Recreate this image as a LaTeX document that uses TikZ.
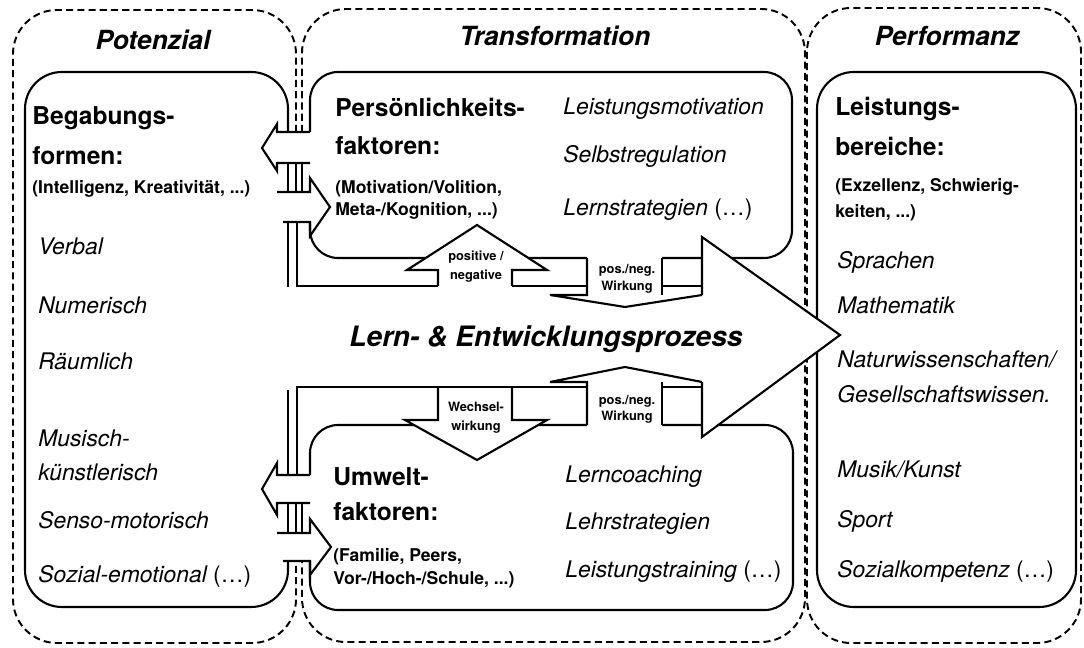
\documentclass[tikz,border=0pt]{standalone}
\usepackage{fontspec}
\setmainfont{TeX Gyre Heros}
\begin{document}
\begin{tikzpicture}[x=0.02cm,y=-0.02cm,
  outerdash/.style={dash pattern=on 4pt off 2.4pt, line width=1.1pt, rounded corners=25pt},
  bx/.style={line width=1.2pt},
  ln/.style={line width=1.2pt},
  ttl/.style={font=\fontsize{15}{18}\selectfont\bfseries\itshape, inner sep=0, anchor=base},
  hd/.style={font=\fontsize{14}{17}\selectfont\bfseries, inner sep=0, anchor=base west},
  sb/.style={font=\fontsize{10}{12}\selectfont\bfseries, inner sep=0, anchor=base west},
  itm/.style={font=\fontsize{13}{16}\selectfont\itshape, inner sep=0, anchor=base west},
  lab/.style={font=\fontsize{7.3}{9}\selectfont\bfseries, inner sep=0, anchor=base},
  bigt/.style={font=\fontsize{16}{19}\selectfont\bfseries\itshape, inner sep=0, anchor=base}
]
\useasboundingbox (0,0) rectangle (1084,648);

% outer dashed regions
\draw[outerdash] (296,132) -- (296,10) -- (13,10) -- (13,643) -- (296,643) -- (296,561);
\draw[outerdash] (302,132) -- (302,9) -- (805,9) -- (805,642) -- (302,642) -- (302,561);
\draw[outerdash] (807,8) rectangle (1081,643);

% inner boxes
\draw[bx, rounded corners=21pt] (288,132) -- (288,72) -- (25,72) -- (25,607) -- (288,607) -- (288,561);
\draw[bx, rounded corners=21pt] (817,72) rectangle (1076,607);
\draw[bx, rounded corners=16pt] (310,132) -- (310,72) -- (792,72) -- (792,258) -- (310,258) -- (310,222);
\draw[bx, rounded corners=16pt] (310,475) -- (310,425) -- (793,425) -- (793,610) -- (310,610) -- (310,561);

% white fills of arrows covering lines below
\fill[white] (438,287)--(438,270)--(407,270)--(477,225)--(547,270)--(512,270)--(512,287)--cycle;
\fill[white] (587,250)--(587,295)--(550,295)--(625,307)--(702,295)--(662,295)--(662,250)--cycle;
\fill[white] (438,388)--(438,420)--(405,420)--(477,460)--(547,420)--(512,420)--(512,388)--cycle;
\fill[white] (587,435)--(587,382)--(550,382)--(625,367)--(702,382)--(662,382)--(662,435)--cycle;
\fill[white] (702,237)--(840,335)--(702,437)--cycle;

% double walls and channels
\draw[ln] (288,163)--(288,192) (296,163)--(296,192) (302,163)--(302,192);
\draw[ln] (288,503)--(288,533) (296,503)--(296,533) (302,503)--(302,533);
\draw[ln] (288,222)--(288,287);
\draw[ln] (297,222)--(297,286)--(438,286);
\draw[ln] (512,286)--(587,286);
\draw[ln] (662,286)--(702,286);
\draw[ln] (288,390)--(288,475);
\draw[ln] (297,475)--(297,387)--(587,387);
\draw[ln] (662,387)--(702,387);

% small arrows between the boxes
\draw[ln] (310,132)--(277,132)--(277,124)--(262,148)--(277,171)--(277,163)--(310,163);
\draw[ln] (277,192)--(310,192)--(310,178)--(330,207)--(310,236)--(310,222)--(283,222);
\draw[ln] (310,475)--(277,475)--(277,463)--(262,489)--(277,515)--(277,503)--(310,503);
\draw[ln] (277,533)--(310,533)--(310,519)--(331,547)--(310,575)--(310,561)--(283,561);

% central arrows
\draw[ln] (438,286)--(438,270)--(407,270)--(477,225)--(547,270)--(512,270)--(512,286);
\draw[ln] (587,258)--(587,295)--(550,295)--(625,307)--(702,295);
\draw[ln] (662,258)--(662,295);
\draw[ln] (438,387)--(438,420)--(405,420)--(477,460)--(547,420)--(512,420)--(512,387);
\draw[ln] (587,425)--(587,382)--(550,382)--(625,367)--(702,382);
\draw[ln] (662,425)--(662,382);
\draw[ln] (702,295)--(702,237)--(840,335)--(702,437)--(702,382);

% titles
\node[ttl] (tpot) at (153,50) {Potenzial};
\node[ttl] (ttra) at (555,46) {Transformation};
\node[ttl] (tper) at (947,46) {Performanz};
\node[bigt] (lep) at (546,346) {Lern- \& Entwicklungsprozess};

% Potenzial box
\node[hd] (bega) at (32,125) {Begabungs-};
\node[hd] (begb) at (32,165) {formen:};
\node[sb] (begs) at (32,194) {(Intelligenz, Kreativität, ...)};
\node[itm] (p1) at (38,255) {Verbal};
\node[itm] (p2) at (38,314) {Numerisch};
\node[itm] (p3) at (38,369) {Räumlich};
\node[itm] (p4) at (38,446) {Musisch-};
\node[itm] (p5) at (38,480) {künstlerisch};
\node[itm] (p6) at (38,528) {Senso-motorisch};
\node[itm] (p7) at (38,582) {Sozial-emotional {\upshape(\dots)}};

% Persoenlichkeit box
\node[hd] (pera) at (335,117) {Persönlichkeits-};
\node[hd] (perb) at (335,155) {faktoren:};
\node[sb] (pers1) at (335,194) {(Motivation/Volition,};
\node[sb] (pers2) at (335,216) {Meta-/Kognition, ...)};
\node[itm] (q1) at (563,115) {Leistungsmotivation};
\node[itm] (q2) at (563,163) {Selbstregulation};
\node[itm] (q3) at (563,216) {Lernstrategien {\upshape(\dots)}};

% Umwelt box
\node[hd] (umwa) at (333,485) {Umwelt-};
\node[hd] (umwb) at (333,520) {faktoren:};
\node[sb] (umws1) at (333,561) {(Familie, Peers,};
\node[sb] (umws2) at (333,584) {Vor-/Hoch-/Schule, ...)};
\node[itm] (u1) at (565,482) {Lerncoaching};
\node[itm] (u2) at (565,529) {Lehrstrategien};
\node[itm] (u3) at (565,577) {Leistungstraining {\upshape(\dots)}};

% Performanz box
\node[hd] (leia) at (835,116) {Leistungs-};
\node[hd] (leib) at (835,156) {bereiche:};
\node[sb] (leis1) at (835,192) {(Exzellenz, Schwierig-};
\node[sb] (leis2) at (835,218) {keiten, ...)};
\node[itm] (r1) at (837,269) {Sprachen};
\node[itm] (r2) at (837,314) {Mathematik};
\node[itm] (r3) at (837,367) {Naturwissenschaften/};
\node[itm] (r4) at (837,402) {Gesellschaftswissen.};
\node[itm] (r5) at (837,477) {Musik/Kunst};
\node[itm] (r6) at (837,527) {Sport};
\node[itm] (r7) at (837,577) {Sozialkompetenz {\upshape(\dots)}};

% arrow labels
\node[lab] (l1a) at (476,261) {positive /};
\node[lab] (l1b) at (476,279) {negative};
\node[lab] (l2a) at (627,274) {pos./neg.};
\node[lab] (l2b) at (627,291) {Wirkung};
\node[lab] (l3a) at (476,411) {Wechsel-};
\node[lab] (l3b) at (476,430) {wirkung};
\node[lab] (l4a) at (627,404) {pos./neg.};
\node[lab] (l4b) at (627,420) {Wirkung};
\end{tikzpicture}
\end{document}
